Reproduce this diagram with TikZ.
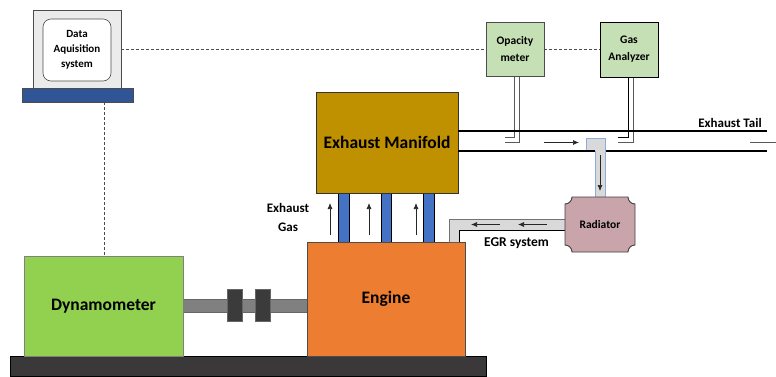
\documentclass[tikz,border=0pt]{standalone}
\usepackage{fontspec}
\setmainfont{Carlito}
\usetikzlibrary{arrows.meta,calc}
\definecolor{manif}{HTML}{BF9000}
\definecolor{engc}{HTML}{ED7D31}
\definecolor{dync}{HTML}{92D050}
\definecolor{basec}{HTML}{3A3838}
\definecolor{pipeb}{HTML}{4472C4}
\definecolor{monb}{HTML}{2F5597}
\definecolor{instr}{HTML}{C5E0B4}
\definecolor{radc}{HTML}{C9A5AB}
\definecolor{ductc}{HTML}{D9D9D9}
\definecolor{coupc}{HTML}{3B3B3B}
\definecolor{teeb}{HTML}{8FAADC}
\tikzset{
  box/.style={draw=#1,line width=0.8pt,anchor=north west,inner sep=0pt,outer sep=0pt,align=center,font=\bfseries},
  box/.default=black,
  dashline/.style={densely dashed,draw=black!70,line width=0.6pt},
  flow/.style={-{Latex[length=6pt,width=5pt]},line width=0.7pt,draw=black!85},
  probe/.style={draw=black!65,line width=0.8pt},
  pipeline/.style={draw=black,line width=1.7pt},
}
\newcommand{\bx}[6][]{\node[box,#1,minimum width=#4pt,minimum height=#5pt] (#2) at (#3) {#6};}
\begin{document}
\begin{tikzpicture}[x=1pt,y=-1pt]
\useasboundingbox (0,0) rectangle (776,376);
% base
\bx[fill=basec,draw=black]{base}{10,356}{476}{20}{}
% monitor
\bx[fill=black!8,draw=black!70]{mon}{33,10}{88}{78}{}
\node[draw=black!70,fill=white,rounded corners=8pt,line width=0.6pt,minimum width=68pt,minimum height=62pt,inner sep=0pt,align=center,font=\bfseries\fontsize{11}{15}\selectfont] (daq) at (77,50) {Data\\Aquisition\\system};
\bx[fill=monb,draw=black!70]{monbase}{22,88}{111}{14}{}
% instruments
\bx[fill=instr,draw=black!70,font=\bfseries\fontsize{11.5}{17}\selectfont]{opac}{486,22}{58}{54}{Opacity\\meter}
\bx[fill=instr,draw=black,font=\bfseries\fontsize{11.5}{17}\selectfont]{gas}{600,22}{58}{55}{Gas\\Analyzer}
% probes
\coordinate (o1) at (514,76.5); \coordinate (o2) at (519,76.5);
\coordinate (g1) at (628,77.5); \coordinate (g2) at (633,77.5);
\draw[probe] (o1) -- (514,137) -- (505,137);
\draw[probe] (o2) -- (519,142.5) -- (505,142.5);
\draw[probe,draw=black] (g1) -- (628,137) -- (618,137);
\draw[probe] (g2) -- (633,142.5) -- (618,142.5);
% exhaust pipes
\bx[fill=pipeb,draw=black]{p1}{338,193}{11}{49}{}
\bx[fill=pipeb,draw=black]{p2}{381,193}{10}{49}{}
\bx[fill=pipeb,draw=black]{p3}{423,193}{11}{49}{}
% shaft
\bx[fill=black!50,draw=black!60]{shaft}{183,299}{124}{13}{}
\bx[fill=coupc,draw=black!60]{c1}{227,289}{15}{32}{}
\bx[fill=coupc,draw=black!60]{c2}{255,289}{15}{32}{}
% main boxes
\bx[fill=manif,draw=black!80,font=\bfseries\fontsize{17.5}{20}\selectfont]{man}{316,92}{142}{101}{Exhaust Manifold}
\bx[fill=engc,draw=black!70,font=\bfseries\fontsize{17.5}{20}\selectfont]{eng}{307,242}{158}{114}{Engine}
\bx[fill=dync,draw=black!50,font=\bfseries\fontsize{17.5}{20}\selectfont]{dyn}{24,256}{159}{100}{Dynamometer}
% tail pipes
\coordinate (t1) at (767,131); \coordinate (t2) at (767,151);
\coordinate (m1) at (458,131); \coordinate (m2) at (458,151);
\draw[pipeline] (m1) -- (t1);
\draw[pipeline] (m2) -- (t2);
% EGR branch
\fill[ductc] (586,138) -- (605,138) -- (605,197) -- (595,197) -- (595,151) -- (586,151) -- cycle;
\draw[draw=teeb,line width=0.9pt] (586,151) -- (586,138) -- (605,138) -- (605,197);
\draw[draw=teeb,line width=0.9pt] (595,197) -- (595,151);
\draw[draw=black,line width=1.3pt] (586,151) -- (595,151);
% EGR duct
\fill[ductc] (449,242) -- (449,219) -- (565,219) -- (565,230) -- (459,230) -- (459,242) -- cycle;
\draw[draw=black!55,line width=0.9pt] (449,242) -- (449,219) -- (565,219);
\draw[draw=black,line width=1pt] (459,242) -- (459,230) -- (565,230);
% radiator
\coordinate (rc) at (600,224.5);
\draw[draw=black!75,line width=0.9pt,fill=radc]
  (572,197) -- (628,197)
  arc[start angle=180,end angle=270,radius=7pt]
  -- (635,245)
  arc[start angle=90,end angle=180,radius=7pt]
  -- (572,252)
  arc[start angle=0,end angle=90,radius=7pt]
  -- (565,204)
  arc[start angle=-90,end angle=0,radius=7pt] -- cycle;
\node[font=\bfseries\fontsize{11.5}{13}\selectfont,inner sep=0pt] (rad) at (rc) {Radiator};
% dashed links
\draw[dashline] (mon.east) -- (opac.west |- mon.east);
\draw[dashline] (opac.east |- 0,49) -- (gas.west |- 0,49);
\draw[dashline] (monbase.south -| 104,0) -- (dyn.north -| 104,0);
% flow arrows
\coordinate (a1s) at (330,235); \coordinate (a1e) at (330,203);
\coordinate (a2s) at (369,235); \coordinate (a2e) at (369,203);
\coordinate (a3s) at (416,235); \coordinate (a3e) at (416,203);
\draw[flow] (a1s) -- (a1e);
\draw[flow] (a2s) -- (a2e);
\draw[flow] (a3s) -- (a3e);
\coordinate (b1s) at (544,142.5); \coordinate (b1e) at (579,142.5);
\draw[flow] (b1s) -- (b1e);
\coordinate (b2s) at (600,155); \coordinate (b2e) at (600,191);
\draw[flow] (b2s) -- (b2e);
\coordinate (e1s) at (500,224.5); \coordinate (e1e) at (471,224.5);
\coordinate (e2s) at (547,224.5); \coordinate (e2e) at (518,224.5);
\draw[flow] (e1s) -- (e1e);
\draw[flow] (e2s) -- (e2e);
\coordinate (f1) at (750,142.5); \coordinate (f2) at (776,142.5);
\draw[probe] (f1) -- (f2);
% labels
\node[font=\bfseries\fontsize{13}{19}\selectfont,align=center,inner sep=0pt] (lgas) at (288,217) {Exhaust\\Gas};
\node[font=\bfseries\fontsize{13.5}{15}\selectfont,inner sep=0pt] (legr) at (516.5,243.5) {EGR system};
\node[font=\bfseries\fontsize{13}{15}\selectfont,inner sep=0pt] (ltail) at (730,123) {Exhaust Tail};
\end{tikzpicture}
\end{document}
